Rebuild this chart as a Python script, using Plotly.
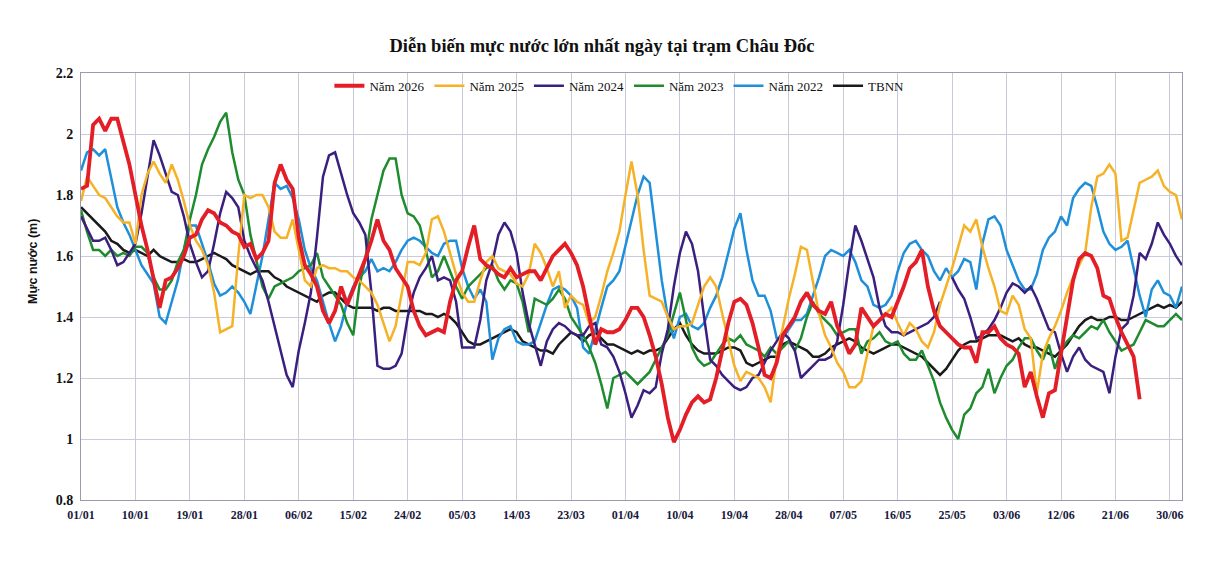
import plotly.graph_objects as go

tick_labels = ["01/01", "10/01", "19/01", "28/01", "06/02", "15/02", "24/02", "05/03",
               "14/03", "23/03", "01/04", "10/04", "19/04", "28/04", "07/05", "16/05",
               "25/05", "03/06", "12/06", "21/06", "30/06"]
tick_days = [0, 9, 18, 27, 36, 45, 54, 63, 72, 81, 90, 99, 108, 117, 126, 135, 144, 153, 162, 171, 180]

nam_2026 = [1.82, 1.83, 2.03, 2.05, 2.01, 2.05, 2.05, 1.97, 1.90, 1.80,
            1.70, 1.62, 1.53, 1.43, 1.52, 1.53, 1.56, 1.60, 1.66, 1.67,
            1.72, 1.75, 1.74, 1.71, 1.70, 1.68, 1.67, 1.63, 1.64, 1.59,
            1.61, 1.65, 1.84, 1.90, 1.85, 1.82, 1.66, 1.57, 1.54, 1.50,
            1.42, 1.38, 1.42, 1.50, 1.44, 1.49, 1.54, 1.59, 1.65, 1.72,
            1.65, 1.62, 1.56, 1.53, 1.50, 1.42, 1.37, 1.34, 1.35, 1.36,
            1.35, 1.45, 1.52, 1.55, 1.63, 1.70, 1.59, 1.57, 1.56, 1.54,
            1.53, 1.56, 1.53, 1.54, 1.55, 1.55, 1.52, 1.56, 1.60, 1.62,
            1.64, 1.61, 1.57, 1.50, 1.41, 1.31, 1.36, 1.35, 1.35, 1.36,
            1.39, 1.43, 1.43, 1.40, 1.34, 1.27, 1.18, 1.07, 0.99, 1.03,
            1.08, 1.12, 1.14, 1.12, 1.13, 1.20, 1.29, 1.38, 1.45, 1.46,
            1.44, 1.38, 1.30, 1.21, 1.20, 1.25, 1.34, 1.37, 1.40, 1.45,
            1.48, 1.44, 1.42, 1.41, 1.45, 1.37, 1.33, 1.28, 1.31, 1.43,
            1.40, 1.37, 1.39, 1.41, 1.40, 1.45, 1.50, 1.56, 1.58, 1.62,
            1.50, 1.42, 1.37, 1.35, 1.33, 1.31, 1.30, 1.30, 1.25, 1.35,
            1.35, 1.37, 1.33, 1.31, 1.30, 1.28, 1.17, 1.22, 1.14, 1.07,
            1.15, 1.16, 1.28, 1.40, 1.52, 1.59, 1.61, 1.60, 1.56, 1.47,
            1.46, 1.40, 1.35, 1.31, 1.27, 1.13]

nam_2025 = [1.78, 1.86, 1.83, 1.80, 1.79, 1.76, 1.73, 1.71, 1.71, 1.64,
            1.80, 1.87, 1.91, 1.87, 1.84, 1.90, 1.85, 1.78, 1.70, 1.65,
            1.62, 1.57, 1.48, 1.35, 1.36, 1.37, 1.60, 1.80, 1.79, 1.80,
            1.80, 1.76, 1.68, 1.66, 1.66, 1.72, 1.62, 1.52, 1.50, 1.56,
            1.57, 1.56, 1.56, 1.55, 1.55, 1.53, 1.52, 1.50, 1.48, 1.44,
            1.38, 1.32, 1.37, 1.47, 1.58, 1.58, 1.57, 1.61, 1.72, 1.73,
            1.68, 1.61, 1.54, 1.48, 1.45, 1.45, 1.52, 1.58, 1.60, 1.56,
            1.55, 1.54, 1.51, 1.50, 1.54, 1.64, 1.61, 1.56, 1.50, 1.55,
            1.43, 1.47, 1.45, 1.44, 1.38, 1.40, 1.47, 1.55, 1.61, 1.68,
            1.80, 1.91, 1.80, 1.62, 1.47, 1.46, 1.45, 1.40, 1.36, 1.37,
            1.37, 1.38, 1.44, 1.50, 1.53, 1.50, 1.41, 1.32, 1.24, 1.19,
            1.22, 1.21, 1.20, 1.17, 1.12, 1.27, 1.37, 1.46, 1.54, 1.63,
            1.62, 1.52, 1.41, 1.34, 1.30, 1.25, 1.22, 1.17, 1.17, 1.19,
            1.28, 1.37, 1.39, 1.41, 1.43, 1.38, 1.34, 1.38, 1.36, 1.32,
            1.30, 1.35, 1.44, 1.50, 1.56, 1.63, 1.70, 1.68, 1.72, 1.63,
            1.56, 1.50, 1.42, 1.41, 1.47, 1.44, 1.36, 1.33, 1.15, 1.28,
            1.33, 1.37, 1.42, 1.48, 1.53, 1.57, 1.61, 1.76, 1.86, 1.87,
            1.90, 1.87, 1.65, 1.66, 1.75, 1.84, 1.85, 1.86, 1.88, 1.83,
            1.81, 1.80, 1.72]

nam_2024 = [1.73, 1.69, 1.65, 1.65, 1.66, 1.62, 1.57, 1.58, 1.61, 1.64,
            1.74, 1.86, 1.98, 1.93, 1.87, 1.81, 1.80, 1.73, 1.64, 1.58,
            1.53, 1.55, 1.64, 1.74, 1.81, 1.79, 1.76, 1.65, 1.60, 1.56,
            1.52, 1.45, 1.37, 1.29, 1.21, 1.17, 1.29, 1.38, 1.48, 1.66,
            1.86, 1.93, 1.94, 1.87, 1.80, 1.74, 1.71, 1.67, 1.48, 1.24,
            1.23, 1.23, 1.24, 1.28, 1.40, 1.48, 1.53, 1.56, 1.60, 1.52,
            1.53, 1.52, 1.45, 1.30, 1.30, 1.30, 1.39, 1.52, 1.58, 1.67,
            1.71, 1.68, 1.61, 1.48, 1.38, 1.31, 1.24, 1.32, 1.36, 1.38,
            1.37, 1.35, 1.34, 1.34, 1.37, 1.38, 1.31, 1.30, 1.27, 1.22,
            1.15, 1.07, 1.11, 1.16, 1.15, 1.17, 1.28, 1.36, 1.50, 1.61,
            1.68, 1.64, 1.55, 1.40, 1.26, 1.24, 1.21, 1.19, 1.17, 1.16,
            1.17, 1.20, 1.21, 1.25, 1.29, 1.32, 1.35, 1.33, 1.29, 1.20,
            1.22, 1.24, 1.26, 1.26, 1.27, 1.32, 1.44, 1.58, 1.70, 1.65,
            1.59, 1.53, 1.43, 1.37, 1.35, 1.35, 1.34, 1.35, 1.36, 1.37,
            1.38, 1.40, 1.45, None, 1.53, 1.49, 1.46, 1.40, 1.33, 1.34,
            1.36, 1.39, 1.43, 1.48, 1.51, 1.50, 1.48, 1.50, 1.46, 1.41,
            1.36, 1.35, 1.28, 1.22, 1.27, 1.30, 1.26, 1.24, 1.23, 1.22,
            1.15, 1.27, 1.36, 1.38, 1.47, 1.61, 1.59, 1.64, 1.71, 1.67,
            1.64, 1.60, 1.57]

nam_2023 = [1.75, 1.68, 1.62, 1.62, 1.60, 1.62, 1.60, 1.61, 1.60, 1.63,
            1.63, 1.61, 1.53, 1.49, 1.49, 1.52, 1.58, 1.62, 1.72, 1.80,
            1.90, 1.95, 1.99, 2.04, 2.07, 1.94, 1.85, 1.80, 1.67, 1.58,
            1.50, 1.46, 1.50, 1.51, 1.52, 1.53, 1.55, 1.56, 1.57, 1.61,
            1.53, 1.50, 1.47, 1.44, 1.38, 1.34, 1.50, 1.59, 1.72, 1.80,
            1.88, 1.92, 1.92, 1.80, 1.74, 1.73, 1.70, 1.62, 1.53, 1.55,
            1.60, 1.55, 1.50, 1.46, 1.50, 1.52, 1.54, 1.56, 1.57, 1.52,
            1.49, 1.52, 1.51, 1.45, 1.35, 1.46, 1.45, 1.44, 1.46, 1.49,
            1.46, 1.40, 1.37, 1.34, 1.30, 1.25, 1.18, 1.10, 1.20, 1.21,
            1.22, 1.20, 1.18, 1.20, 1.22, 1.26, 1.30, 1.34, 1.41, 1.48,
            1.39, 1.30, 1.26, 1.24, 1.25, 1.28, 1.31, 1.33, 1.32, 1.34,
            1.31, 1.30, 1.29, 1.27, 1.30, 1.28, 1.30, 1.32, 1.29, 1.33,
            1.40, 1.45, 1.41, 1.39, 1.37, 1.34, 1.35, 1.36, 1.36, 1.28,
            1.32, 1.33, 1.35, 1.32, 1.31, 1.32, 1.28, 1.26, 1.26, 1.29,
            1.24, 1.19, 1.12, 1.07, 1.03, 1.00, 1.08, 1.10, 1.15, 1.17,
            1.23, 1.15, 1.20, 1.24, 1.26, 1.30, 1.33, 1.33, 1.29, 1.26,
            1.31, 1.23, 1.29, 1.32, 1.34, 1.33, 1.35, 1.37, 1.36, 1.39,
            1.35, 1.32, 1.29, 1.30, 1.31, 1.35, 1.39, 1.38, 1.37, 1.37,
            1.39, 1.41, 1.39]

nam_2022 = [1.88, 1.94, 1.95, 1.93, 1.95, 1.86, 1.76, 1.71, 1.67, 1.62,
            1.57, 1.54, 1.51, 1.40, 1.38, 1.45, 1.52, 1.62, 1.70, 1.70,
            1.64, 1.58, 1.51, 1.47, 1.48, 1.50, 1.48, 1.45, 1.41, 1.50,
            1.60, 1.72, 1.84, 1.82, 1.83, 1.79, 1.72, 1.62, 1.56, 1.52,
            1.45, 1.38, 1.32, 1.37, 1.45, 1.50, 1.53, 1.55, 1.59, 1.55,
            1.56, 1.55, 1.58, 1.62, 1.65, 1.66, 1.65, 1.63, 1.61, 1.60,
            1.64, 1.65, 1.65, 1.56, 1.50, 1.46, 1.49, 1.45, 1.26, 1.33,
            1.36, 1.37, 1.32, 1.31, 1.31, 1.32, 1.38, 1.44, 1.49, 1.50,
            1.49, 1.47, 1.43, 1.30, 1.28, 1.36, 1.43, 1.50, 1.52, 1.55,
            1.63, 1.71, 1.80, 1.86, 1.84, 1.68, 1.52, 1.40, 1.33, 1.40,
            1.41, 1.37, 1.36, 1.38, 1.43, 1.47, 1.53, 1.61, 1.69, 1.74,
            1.62, 1.52, 1.47, 1.47, 1.42, 1.33, 1.33, 1.36, 1.39, 1.39,
            1.41, 1.47, 1.53, 1.60, 1.62, 1.61, 1.60, 1.62, 1.58, 1.52,
            1.50, 1.44, 1.43, 1.44, 1.47, 1.55, 1.61, 1.64, 1.65, 1.62,
            1.60, 1.55, 1.52, 1.56, 1.53, 1.55, 1.59, 1.58, 1.49, 1.64,
            1.72, 1.73, 1.70, 1.62, 1.57, 1.52, 1.49, 1.49, 1.54, 1.62,
            1.66, 1.68, 1.73, 1.70, 1.79, 1.82, 1.84, 1.83, 1.76, 1.68,
            1.64, 1.62, 1.63, 1.65, 1.56, 1.47, 1.40, 1.49, 1.52, 1.48,
            1.47, 1.43, 1.50]

tbnn = [1.76, 1.74, 1.72, 1.70, 1.68, 1.65, 1.64, 1.62, 1.61, 1.62,
        1.61, 1.60, 1.62, 1.60, 1.59, 1.58, 1.58, 1.59, 1.58, 1.58,
        1.59, 1.60, 1.61, 1.60, 1.59, 1.57, 1.56, 1.55, 1.54, 1.55,
        1.55, 1.55, 1.53, 1.52, 1.50, 1.49, 1.48, 1.47, 1.46, 1.45,
        1.47, 1.48, 1.48, 1.46, 1.44, 1.43, 1.43, 1.43, 1.43, 1.42,
        1.43, 1.43, 1.42, 1.42, 1.42, 1.42, 1.42, 1.41, 1.41, 1.40,
        1.41, 1.40, 1.38, 1.35, 1.32, 1.31, 1.31, 1.32, 1.33, 1.34,
        1.35, 1.36, 1.35, 1.32, 1.31, 1.30, 1.29, 1.29, 1.28, 1.31,
        1.33, 1.35, 1.34, 1.32, 1.34, 1.35, 1.33, 1.31, 1.31, 1.30,
        1.29, 1.28, 1.29, 1.28, 1.29, 1.29, 1.30, 1.33, 1.36, 1.38,
        1.34, 1.31, 1.29, 1.28, 1.28, 1.28, 1.29, 1.30, 1.30, 1.29,
        1.25, 1.24, 1.25, 1.26, 1.27, 1.27, 1.31, 1.32, 1.31, 1.30,
        1.29, 1.27, 1.27, 1.28, 1.30, 1.31, 1.32, 1.33, 1.32, 1.30,
        1.29, 1.28, 1.29, 1.30, 1.31, 1.31, 1.30, 1.29, 1.28, 1.27,
        1.25, 1.23, 1.21, 1.23, 1.26, 1.29, 1.31, 1.32, 1.32, 1.33,
        1.34, 1.34, 1.34, 1.33, 1.32, 1.33, 1.31, 1.30, 1.30, 1.29,
        1.28, 1.27, 1.29, 1.31, 1.34, 1.37, 1.39, 1.40, 1.39, 1.39,
        1.40, 1.40, 1.39, 1.39, 1.40, 1.41, 1.42, 1.43, 1.44, 1.43,
        1.44, 1.43, 1.45]

series = [
    ("TBNN", tbnn, "#1a1a1a", 2.5),
    ("Năm 2022", nam_2022, "#1f8fda", 2.5),
    ("Năm 2023", nam_2023, "#1e8b2e", 2.5),
    ("Năm 2024", nam_2024, "#3b1f7e", 2.5),
    ("Năm 2025", nam_2025, "#f6b226", 2.5),
    ("Năm 2026", nam_2026, "#e41e26", 3.8),
]

FONT = "Liberation Serif"
# the page has an 8px body margin; margins below compensate so the plot area
# lands at x 81..1182, y 73..500 in the window
OFF = 8
fig = go.Figure()
for name, vals, color, width in series:
    fig.add_trace(go.Scatter(
        x=list(range(len(vals))), y=vals, name=name, mode="lines",
        line=dict(color=color, width=width), connectgaps=False,
    ))

fig.update_layout(
    width=1213, height=561,
    paper_bgcolor="white", plot_bgcolor="white",
    margin=dict(l=81 - OFF, r=31 + OFF, t=73 - OFF, b=61 + OFF),
    title=dict(text="Diễn biến mực nước lớn nhất ngày tại trạm Châu Đốc",
               x=(602 - OFF) / 1213, xref="container", xanchor="center",
               y=1 - (46 - OFF) / 561, yref="container", yanchor="middle",
               font=dict(family=FONT, size=18.5, color="#111111", weight="bold")),
    legend=dict(orientation="h", x=0.489, xanchor="center", y=0.97, yanchor="middle",
                traceorder="reversed", bgcolor="rgba(0,0,0,0)",
                font=dict(family=FONT, size=13, color="#111111"),
                itemwidth=30, tracegroupgap=0),
    showlegend=True,
    annotations=[dict(text="<b>Mực nước (m)</b>", textangle=-90,
                      xref="paper", yref="paper", x=0, y=(500 - 262) / 427,
                      xanchor="center", yanchor="middle", xshift=33 - 81,
                      showarrow=False,
                      font=dict(family="Liberation Sans", size=12.5, color="#111111"))],
)

fig.update_xaxes(
    range=[0, 182], tickmode="array", tickvals=tick_days, ticktext=tick_labels,
    showgrid=True, gridcolor="#c9cbdb", gridwidth=1,
    showline=True, linecolor="#9a9cae", linewidth=1, mirror=True,
    ticks="", zeroline=False, automargin=False, ticklabelstandoff=4,
    tickfont=dict(family=FONT, size=12, color="#1a1a40", weight="bold"),
)
fig.update_yaxes(
    range=[0.8, 2.2], tickmode="array",
    tickvals=[0.8, 1.0, 1.2, 1.4, 1.6, 1.8, 2.0, 2.2],
    ticktext=["0.8", "1", "1.2", "1.4", "1.6", "1.8", "2", "2.2"],
    showgrid=True, gridcolor="#c9cbdb", gridwidth=1,
    showline=True, linecolor="#9a9cae", linewidth=1, mirror=True,
    ticks="", zeroline=False, automargin=False, ticklabelstandoff=4,
    tickfont=dict(family=FONT, size=14, color="#111111", weight="bold"),
)

fig.write_html("out.html")
